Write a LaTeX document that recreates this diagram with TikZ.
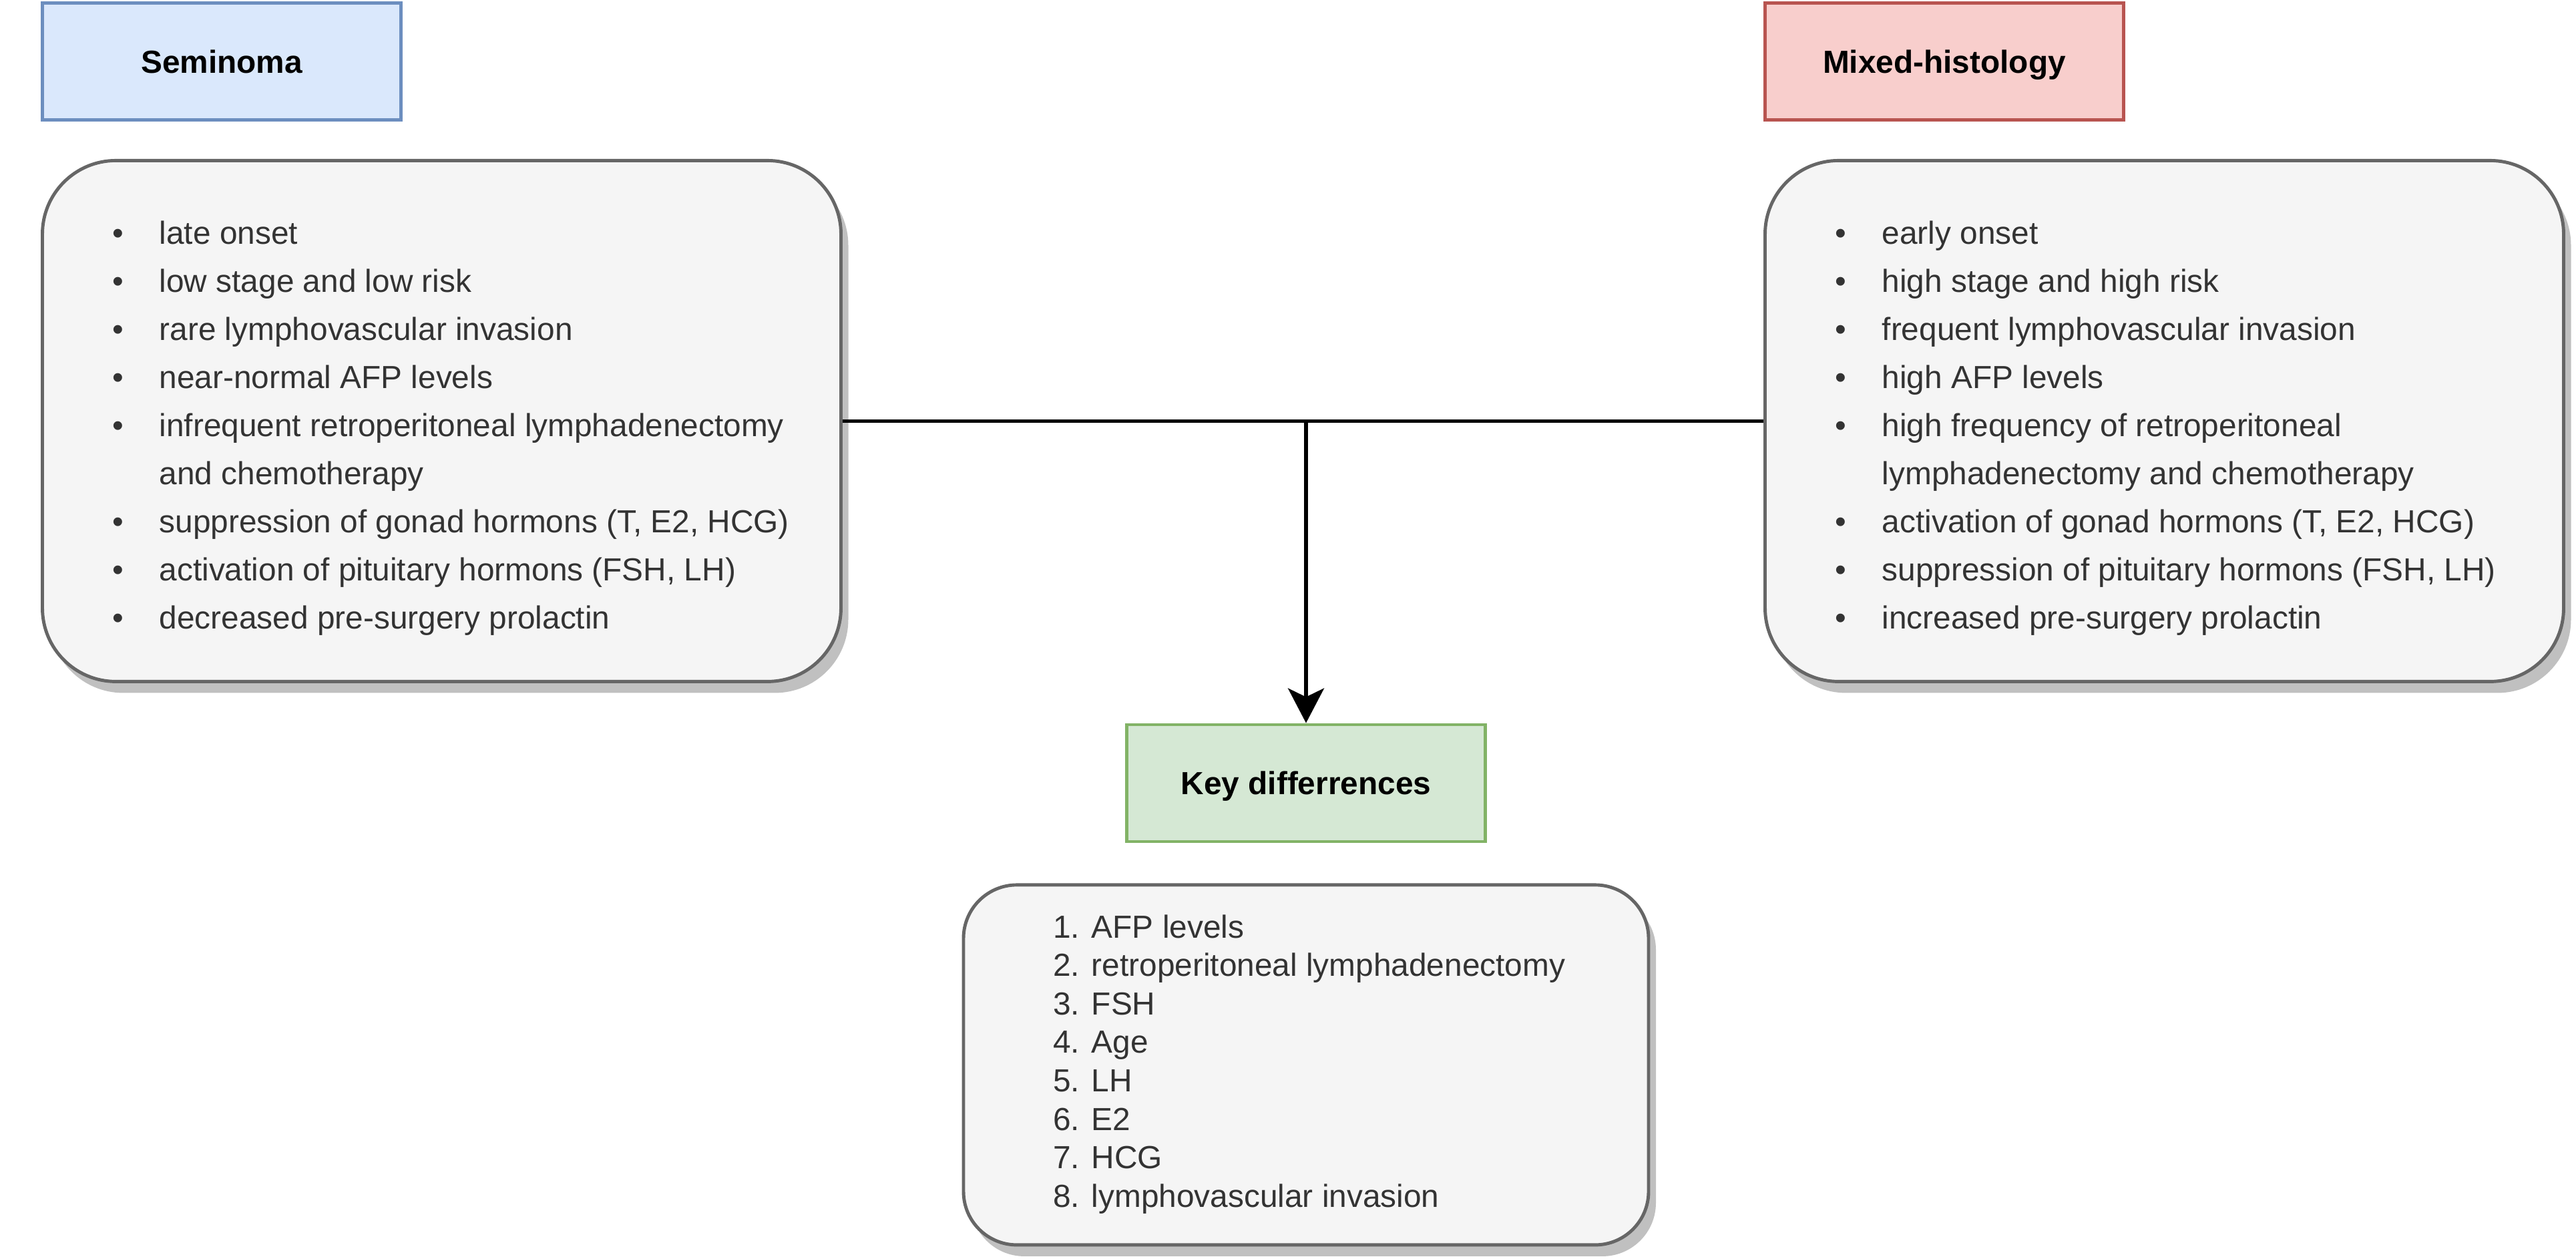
\documentclass[tikz,border=0pt]{standalone}
\usepackage{fontspec}
\setmainfont{Liberation Sans}
\usetikzlibrary{positioning, arrows.meta, shadows}

\definecolor{semfill}{HTML}{DAE8FC}
\definecolor{semdraw}{HTML}{6C8EBF}
\definecolor{mixfill}{HTML}{F8CECC}
\definecolor{mixdraw}{HTML}{B85450}
\definecolor{keyfill}{HTML}{D5E8D4}
\definecolor{keydraw}{HTML}{82B366}
\definecolor{listfill}{HTML}{F5F5F5}
\definecolor{listdraw}{HTML}{666666}
\definecolor{shadowc}{HTML}{C0C0C0}
\definecolor{txt}{HTML}{333333}

\newcommand{\bul}{\makebox[0.7cm][l]{\textbullet}}
\newcommand{\nobul}{\makebox[0.7cm][l]{}}

\begin{document}
\begin{tikzpicture}[>={Stealth[length=0.52cm, width=0.54cm, inset=0.13cm]},
    title/.style={draw, line width=1.4pt, minimum width=5.37cm, minimum height=1.75cm, inner sep=0pt,
        text height=0.35cm, text depth=0pt, font=\bfseries\fontsize{13.6}{16}\selectfont},
    listbox/.style={draw=listdraw, fill=listfill, line width=1.4pt, rounded corners=1.1cm, inner sep=0pt,
        drop shadow={shadow xshift=0.11cm, shadow yshift=-0.17cm, fill=shadowc, opacity=1}},
    listtext/.style={align=left, inner sep=0pt, text=txt, font=\fontsize{13.6}{20.5}\selectfont}]
  \useasboundingbox (0,0) rectangle (38.58,18.84);

  \node[title, draw=semdraw, fill=semfill] (sem) at (3.32,17.92) {Seminoma};
  \node[title, draw=mixdraw, fill=mixfill] (mix) at (29.12,17.92) {Mixed-histology};

  \node[listbox, minimum width=11.96cm, minimum height=7.8cm, below right=0.56cm and 0cm of sem.south west] (semlist) {};
  \node[listbox, minimum width=11.96cm, minimum height=7.8cm, below right=0.56cm and 0cm of mix.south west] (mixlist) {};

  % bullet lists, set apart from the box outlines
  \node[listtext, anchor=west, xshift=1.07cm, yshift=-0.11cm] (semtext) at (semlist.west) {%
    \bul late onset\\
    \bul low stage and low risk\\
    \bul rare lymphovascular invasion\\
    \bul near-normal AFP levels\\
    \bul infrequent retroperitoneal lymphadenectomy\\
    \nobul and chemotherapy\\
    \bul suppression of gonad hormons (T, E2, HCG)\\
    \bul activation of pituitary hormons (FSH, LH)\\
    \bul decreased pre-surgery prolactin};
  \node[listtext, anchor=west, xshift=1.07cm, yshift=-0.11cm] (mixtext) at (mixlist.west) {%
    \bul early onset\\
    \bul high stage and high risk\\
    \bul frequent lymphovascular invasion\\
    \bul high AFP levels\\
    \bul high frequency of retroperitoneal\\
    \nobul lymphadenectomy and chemotherapy\\
    \bul activation of gonad hormons (T, E2, HCG)\\
    \bul suppression of pituitary hormons (FSH, LH)\\
    \bul increased pre-surgery prolactin};

  \node[title, draw=keydraw, fill=keyfill] (key) at (19.56,7.115) {Key differrences};
  \node[listbox, rounded corners=0.8cm, minimum width=10.26cm, minimum height=5.39cm, below=0.6cm of key] (keylist) {};
  \node[listtext, font=\fontsize{13.6}{16.4}\selectfont, anchor=west, xshift=1.36cm, yshift=0.01cm] (keytext) at (keylist.west) {%
    1. AFP levels\\
    2. retroperitoneal lymphadenectomy\\
    3. FSH\\
    4. Age\\
    5. LH\\
    6. E2\\
    7. HCG\\
    8. lymphovascular invasion};

  \draw[line width=1.5pt] (semlist.east) -- (mixlist.west);
  \draw[->, line width=1.5pt] (semlist.east -| key.north) -- (key.north);
\end{tikzpicture}
\end{document}
